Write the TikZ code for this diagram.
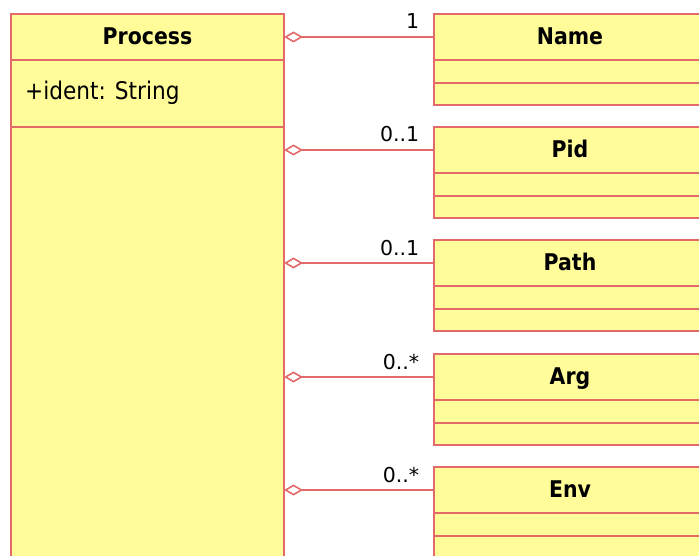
\documentclass[tikz,border=0pt]{standalone}
\usepackage{fontspec}
\setmainfont{DejaVu Sans}
\newfontfamily\narrowsans[FakeStretch=0.89]{DejaVu Sans}
\usetikzlibrary{arrows.meta,positioning}
\definecolor{umlfill}{HTML}{FFFC99}
\definecolor{umlline}{HTML}{E26A6A}
\tikzset{
  box/.style={draw=umlline,fill=umlfill,line width=1.8pt,inner sep=0pt,outer sep=0pt,rectangle},
  hdr/.style={box,anchor=north west,minimum width=#1,minimum height=46pt,text height=15pt,text depth=0pt,font=\narrowsans\bfseries\fontsize{23}{26}\selectfont},
  cmp/.style 2 args={box,minimum width=#1,minimum height=#2},
  attr/.style={inner sep=0pt,anchor=base west,font=\narrowsans\fontsize{24.3}{28}\selectfont},
  mult/.style={inner sep=0pt,anchor=base east,xshift=-14pt,yshift=8pt,font=\fontsize{20.5}{24}\selectfont},
  assoc/.style={draw=umlline,line width=1.6pt,-{Diamond[open,length=19pt,width=11pt,line width=1.6pt]}}
}
\newcommand\umlclass[3]{%
  \node[hdr=272pt] (#1) at (434,#2) {#3};
  \node[cmp={272pt}{23pt},below=0pt of #1] (#1a) {};
  \node[cmp={272pt}{22pt},below=0pt of #1a] (#1b) {};
}
\begin{document}
\begin{tikzpicture}[x=1pt,y=-1pt]
\useasboundingbox (0,0) rectangle (699,556);
\clip (0,0) rectangle (699,556);
% Process class
\node[hdr=273pt] (proc) at (11,14) {Process};
\node[cmp={273pt}{67pt},below=0pt of proc] (procattr) {};
\node[cmp={273pt}{480pt},below=0pt of procattr] (procops) {};
\node[attr] (ident) at (25,100) {+ident: String};
% Part classes
\umlclass{name}{14}{Name}
\umlclass{pid}{127}{Pid}
\umlclass{path}{240}{Path}
\umlclass{arg}{354}{Arg}
\umlclass{env}{467}{Env}
% Aggregations
\draw[assoc] (name.west) node[mult] {1} -- (proc.east |- name.west);
\draw[assoc] (pid.west) node[mult] {0..1} -- (proc.east |- pid.west);
\draw[assoc] (path.west) node[mult] {0..1} -- (proc.east |- path.west);
\draw[assoc] (arg.west) node[mult] {0..*} -- (proc.east |- arg.west);
\draw[assoc] (env.west) node[mult] {0..*} -- (proc.east |- env.west);
\end{tikzpicture}
\end{document}
